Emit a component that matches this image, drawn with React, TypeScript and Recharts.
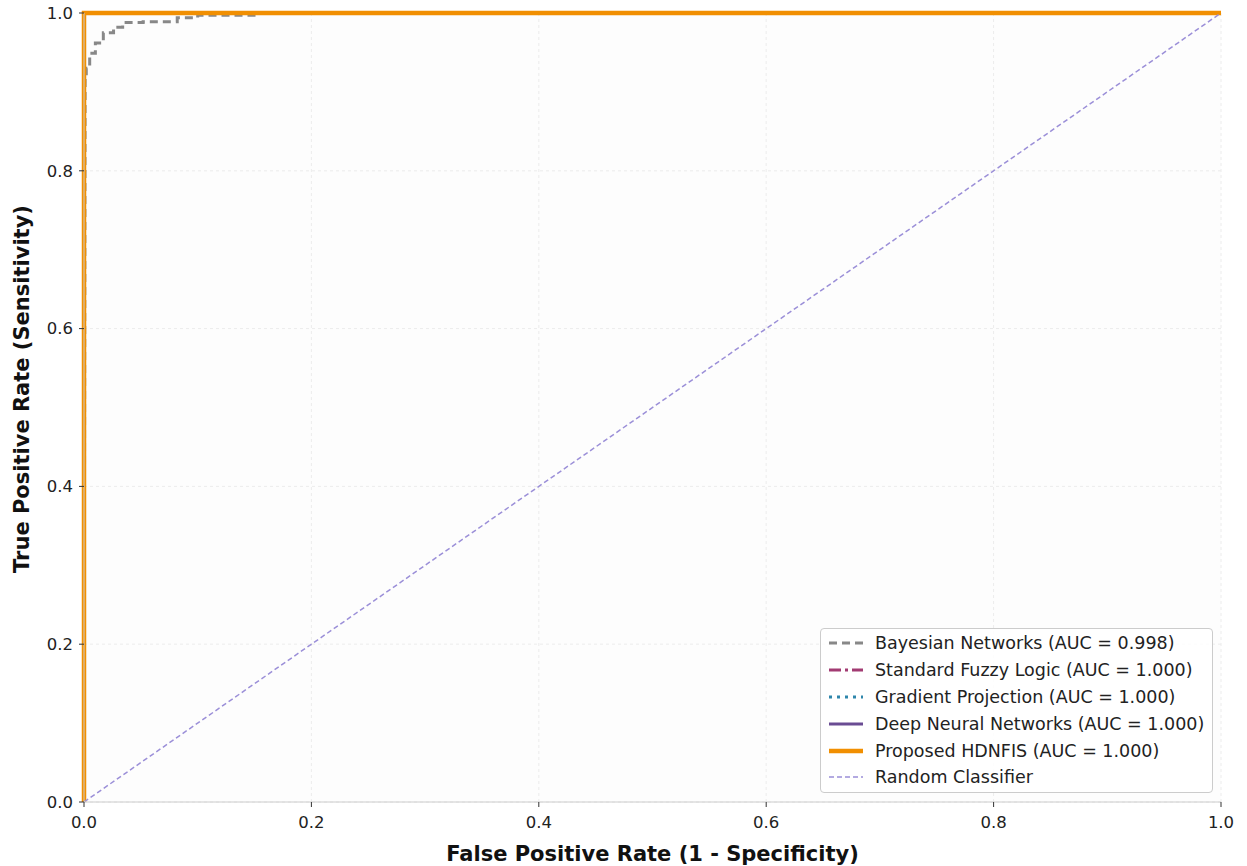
import React from "react";
import {
  LineChart,
  Line,
  XAxis,
  YAxis,
  CartesianGrid,
  Legend,
  Label,
} from "recharts";

// ROC points (fpr, tpr)
const bayesFpr = [0, 0.001, 0.002, 0.002, 0.005, 0.005, 0.01, 0.01, 0.017, 0.017, 0.026, 0.026, 0.034, 0.034, 0.052, 0.052, 0.082, 0.082, 0.1, 0.1, 0.153, 0.155, 1];
const bayesTpr = [0, 0.918, 0.918, 0.93, 0.93, 0.949, 0.949, 0.962, 0.962, 0.975, 0.975, 0.982, 0.982, 0.988, 0.988, 0.989, 0.989, 0.994, 0.994, 0.997, 0.997, 1, 1];
const perfectFpr = [0, 0, 1];
const perfectTpr = [0, 1, 1];
const randomFpr = [0, 1];
const randomTpr = [0, 1];

const ticks = [0, 0.2, 0.4, 0.6, 0.8, 1.0];

const toPoints = (xs: number[], ys: number[]) =>
  xs.map((x, i) => ({ fpr: x, tpr: ys[i] }));

const series = [
  { name: "Bayesian Networks (AUC = 0.998)", color: "#888888", width: 3, dash: "8 5", data: toPoints(bayesFpr, bayesTpr) },
  { name: "Standard Fuzzy Logic (AUC = 1.000)", color: "#a23b72", width: 3, dash: "12 4 3 4", data: toPoints(perfectFpr, perfectTpr) },
  { name: "Gradient Projection (AUC = 1.000)", color: "#2e86ab", width: 3, dash: "3 5", data: toPoints(perfectFpr, perfectTpr) },
  { name: "Deep Neural Networks (AUC = 1.000)", color: "#6a4c93", width: 3, dash: undefined, data: toPoints(perfectFpr, perfectTpr) },
  { name: "Proposed HDNFIS (AUC = 1.000)", color: "#f18f01", width: 4.5, dash: undefined, data: toPoints(perfectFpr, perfectTpr) },
  { name: "Random Classifier", color: "#9b8fd8", width: 1.5, dash: "5 3", data: toPoints(randomFpr, randomTpr) },
];

const font = "'DejaVu Sans', sans-serif";

function LegendBox() {
  return (
    <div
      style={{
        position: "absolute",
        left: 820,
        top: 628,
        width: 393,
        height: 165,
        boxSizing: "border-box",
        border: "1px solid #cccccc",
        borderRadius: 4,
        background: "rgba(255,255,255,0.85)",
        padding: "1px 0 0 7px",
        fontFamily: font,
        fontSize: 17.5,
        color: "#222",
      }}
    >
      {series.map((s) => (
        <div key={s.name} style={{ display: "flex", alignItems: "center", height: 26.8, whiteSpace: "nowrap" }}>
          <svg width={36} height={10} style={{ marginRight: 11 }}>
            <line x1={1} y1={5} x2={35} y2={5} stroke={s.color} strokeWidth={s.width} strokeDasharray={s.dash} />
          </svg>
          <span>{s.name}</span>
        </div>
      ))}
    </div>
  );
}

export default function App() {
  return (
    <div style={{ position: "absolute", left: 0, top: 0, width: 1247, height: 866, background: "#fff" }}>
      <LineChart
        width={1247}
        height={866}
        margin={{ top: 13, right: 26, left: 0, bottom: 0 }}
        style={{ fontFamily: font }}
      >
        <CartesianGrid
          stroke="#ececec"
          strokeDasharray="3 3"
          fill="#fdfdfd"
          horizontalValues={ticks}
          verticalValues={ticks}
        />
        <XAxis
          type="number"
          dataKey="fpr"
          domain={[0, 1]}
          ticks={ticks}
          tickFormatter={(v: number) => v.toFixed(1)}
          height={64}
          tick={{ fill: "#222", fontSize: 16.5 }}
          tickLine={{ stroke: "#333" }}
          tickSize={5}
          tickMargin={9}
          axisLine={{ stroke: "#cccccc" }}
          allowDuplicatedCategory={false}
        >
          <Label
            value="False Positive Rate (1 - Specificity)"
            position="insideBottom"
            offset={5}
            style={{ fontWeight: "bold", fontSize: 21, fill: "#111" }}
          />
        </XAxis>
        <YAxis
          type="number"
          dataKey="tpr"
          domain={[0, 1]}
          ticks={ticks}
          tickFormatter={(v: number) => v.toFixed(1)}
          width={84}
          tick={{ fill: "#222", fontSize: 16.5 }}
          tickLine={{ stroke: "#333" }}
          tickSize={5}
          tickMargin={6}
          axisLine={{ stroke: "#cccccc" }}
        >
          <Label
            content={() => (
              <text
                x={22}
                y={389}
                transform="rotate(-90 22 389)"
                textAnchor="middle"
                dominantBaseline="central"
                style={{ fontWeight: "bold", fontSize: 21, fill: "#111", fontFamily: font }}
              >
                True Positive Rate (Sensitivity)
              </text>
            )}
          />
        </YAxis>
        {series.map((s) => (
          <Line
            key={s.name}
            data={s.data}
            dataKey="tpr"
            name={s.name}
            type="linear"
            stroke={s.color}
            strokeWidth={s.width}
            strokeDasharray={s.dash}
            dot={false}
            activeDot={false}
            isAnimationActive={false}
          />
        ))}
        <Legend content={() => <LegendBox />} wrapperStyle={{ position: "absolute", left: 0, top: 0, width: 0, height: 0 }} />
      </LineChart>
    </div>
  );
}
